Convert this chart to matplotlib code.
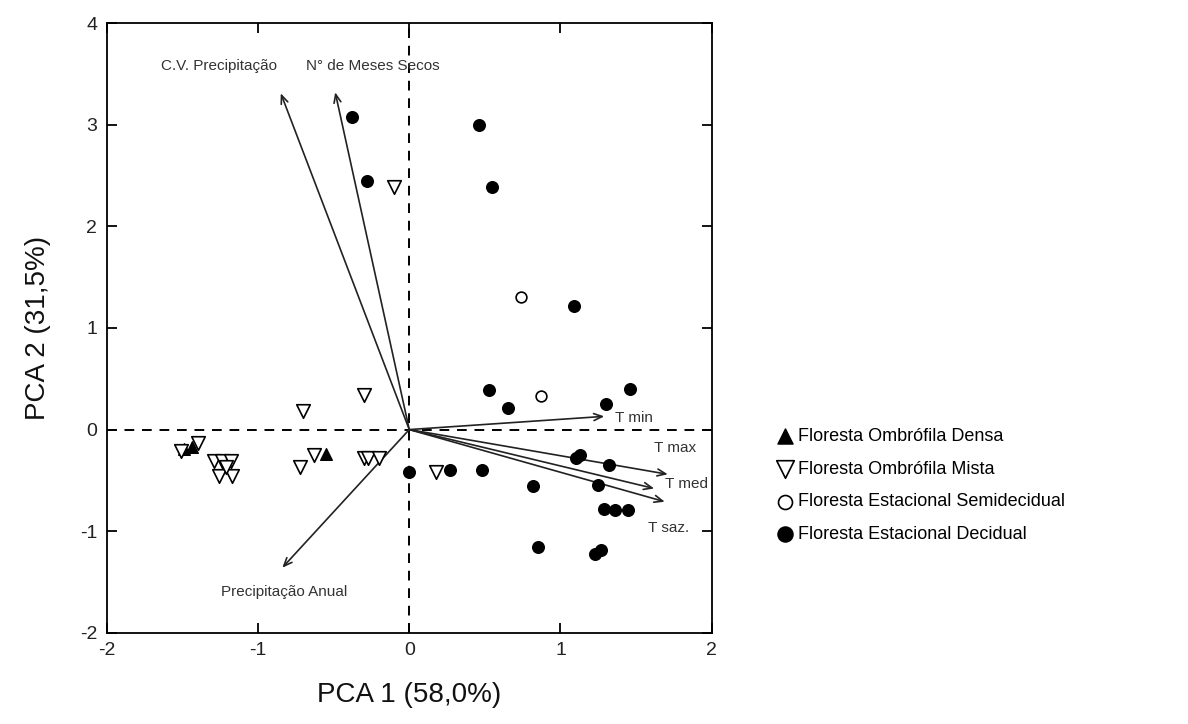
"""
PCA biplot of forest sites (PCA 1 x PCA 2) with climate-variable vectors.
"""
import matplotlib
matplotlib.use("Agg")
import matplotlib.pyplot as plt

plt.rcParams["font.family"] = ["Liberation Sans", "DejaVu Sans"]
plt.rcParams["axes.unicode_minus"] = False

# site scores per forest type
densa_x = [-1.49, -1.44, -0.55]
densa_y = [-0.19, -0.17, -0.24]

mista_x = [-0.10, -1.40, -1.51, -1.29, -1.24, -1.18, -1.26, -1.17, -1.21,
           -0.70, -0.30, -0.63, -0.72, -0.30, -0.27, -0.20, 0.18]
mista_y = [2.39, -0.13, -0.21, -0.31, -0.31, -0.31, -0.46, -0.46, -0.37,
           0.18, 0.34, -0.25, -0.37, -0.28, -0.28, -0.28, -0.42]

semi_x = [0.74, 0.87]
semi_y = [1.30, 0.33]

decid_x = [-0.38, -0.28, 0.46, 0.55, 1.09, 0.53, 1.46, 0.65, 1.30, 0.00,
           0.27, 0.48, 1.10, 1.13, 1.32, 0.82, 1.25, 1.29, 1.36, 1.45,
           0.85, 1.23, 1.27]
decid_y = [3.08, 2.45, 3.00, 2.39, 1.22, 0.39, 0.40, 0.21, 0.25, -0.42,
           -0.40, -0.40, -0.28, -0.25, -0.35, -0.56, -0.55, -0.78, -0.79, -0.79,
           -1.16, -1.22, -1.19]

# climate variable vectors (tip coordinates) and label positions
var_names = ["C.V. Precipitação", "N° de Meses Secos", "Precipitação Anual",
             "T min", "T max", "T med", "T saz."]
var_x = [-0.85, -0.49, -0.84, 1.29, 1.71, 1.62, 1.69]
var_y = [3.31, 3.32, -1.36, 0.13, -0.44, -0.58, -0.71]
lab_x = [-1.26, -0.24, -0.83, 1.36, 1.62, 1.69, 1.58]
lab_y = [3.58, 3.58, -1.60, 0.11, -0.18, -0.54, -0.97]
lab_ha = ["center", "center", "center", "left", "left", "left", "left"]

fig = plt.figure(figsize=(11.88, 7.24), dpi=100)
ax = fig.add_axes([0.090, 0.126, 0.509, 0.842])

ax.axhline(0, color="black", lw=1.4, ls=(0, (5, 4)), zorder=1)
ax.axvline(0, color="black", lw=1.4, ls=(0, (5, 4)), zorder=1)

for name, vx, vy, tx, ty, ha in zip(var_names, var_x, var_y, lab_x, lab_y, lab_ha):
    ax.annotate("", xy=(vx, vy), xytext=(0, 0),
                arrowprops=dict(arrowstyle="->,head_length=0.6,head_width=0.25",
                                color="#222222", lw=1.2, shrinkA=0, shrinkB=0),
                zorder=2)
    ax.text(tx, ty, name, ha=ha, va="center", fontsize=11, color="#333333")

h1 = ax.scatter(densa_x, densa_y, marker="^", s=70, c="black", zorder=3)
h2 = ax.scatter(mista_x, mista_y, marker="v", s=95, facecolors="white",
                edgecolors="black", linewidths=1.2, zorder=3)
h3 = ax.scatter(semi_x, semi_y, marker="o", s=60, facecolors="white",
                edgecolors="black", linewidths=1.2, zorder=3)
h4 = ax.scatter(decid_x, decid_y, marker="o", s=70, c="black", zorder=3)

ax.set_xlim(-2, 2)
ax.set_ylim(-2, 4)
ax.set_xticks([-2, -1, 0, 1, 2])
ax.set_yticks([-2, -1, 0, 1, 2, 3, 4])
ax.tick_params(direction="in", top=True, right=True, length=7, width=1.3,
               labelsize=14, pad=7, colors="black", labelcolor="#222222")
for sp in ax.spines.values():
    sp.set_linewidth(1.3)

ax.set_xlabel("PCA 1 (58,0%)", fontsize=20, color="#111111")
ax.set_ylabel("PCA 2 (31,5%)", fontsize=20, color="#111111")
ax.xaxis.set_label_coords(0.5, -0.08)
ax.yaxis.set_label_coords(-0.092, 0.5)

ax.legend([h1, h2, h3, h4],
          ["Floresta Ombrófila Densa", "Floresta Ombrófila Mista",
           "Floresta Estacional Semidecidual", "Floresta Estacional Decidual"],
          loc="upper left", bbox_to_anchor=(0.655, 0.409),
          bbox_transform=fig.transFigure, frameon=False, fontsize=13,
          handlelength=0.8, handletextpad=0.3, borderpad=0, borderaxespad=0,
          labelspacing=0.87, markerscale=1.3, scatterpoints=1)

fig.savefig("out.png", dpi=100)
print("Saved: out.png")
